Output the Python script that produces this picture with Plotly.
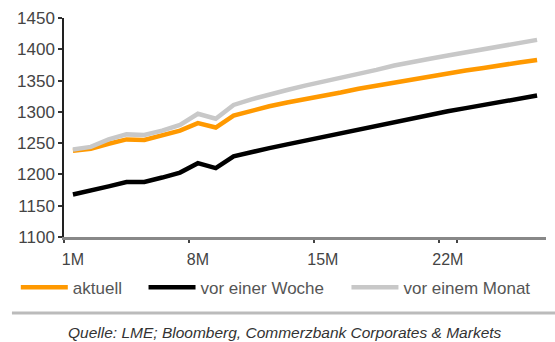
import plotly.graph_objects as go

# Forward curve, months ahead
months = [f"{i}M" for i in range(1, 28)]
tick_labels = ["1M", "8M", "15M", "22M"]

aktuell = [1238, 1241, 1249, 1256, 1255, 1262, 1270, 1282, 1275, 1294,
           1302, 1309, 1315, 1320, 1326, 1331, 1337, 1342, 1347, 1352,
           1357, 1361, 1366, 1370, 1375, 1379, 1383]
vor_einer_woche = [1168, 1174, 1181, 1188, 1188, 1195, 1203, 1218, 1210, 1229,
                   1236, 1242, 1248, 1254, 1260, 1266, 1272, 1278, 1284, 1290,
                   1296, 1301, 1306, 1311, 1316, 1321, 1326]
vor_einem_monat = [1240, 1244, 1256, 1264, 1263, 1270, 1279, 1297, 1289, 1311,
                   1320, 1328, 1335, 1342, 1348, 1355, 1361, 1367, 1374, 1380,
                   1385, 1390, 1395, 1400, 1405, 1410, 1415]

series = [
    ("aktuell", aktuell, "#FF9900", "legend"),
    ("vor einer Woche", vor_einer_woche, "#000000", "legend2"),
    ("vor einem Monat", vor_einem_monat, "#C8C8C8", "legend3"),
]

FONT = "Liberation Sans, Arial, sans-serif"

fig = go.Figure()
for name, vals, color, leg in series:
    fig.add_trace(go.Scatter(
        x=months, y=vals, name=name, mode="lines",
        line=dict(color=color, width=4.5),
        legend=leg,
    ))

legend_common = dict(
    orientation="h", yanchor="middle", xanchor="left", y=-0.232,
    font=dict(family=FONT, size=17, color="#555555"),
    itemwidth=47, bgcolor="rgba(0,0,0,0)", tracegroupgap=0,
)

fig.update_layout(
    width=555, height=342,
    margin=dict(l=64, r=9, t=18, b=105),
    plot_bgcolor="white", paper_bgcolor="white",
    showlegend=True,
    legend=dict(x=-0.10, **legend_common),
    legend2=dict(x=0.165, **legend_common),
    legend3=dict(x=0.586, **legend_common),
    xaxis=dict(
        type="category", categoryorder="array", categoryarray=months,
        range=[-0.5, len(months) - 0.5],
        tickmode="array", tickvals=tick_labels, ticktext=tick_labels,
        tickson="boundaries", tickangle=0, ticklabelstandoff=6,
        ticks="outside", ticklen=3, tickwidth=1.5, tickcolor="#444444",
        showline=True, linecolor="#888888", linewidth=2.5,
        showgrid=False, zeroline=False,
        tickfont=dict(family=FONT, size=16, color="#444444"),
    ),
    yaxis=dict(
        range=[1100, 1450], tickmode="linear", tick0=1100, dtick=50,
        ticks="outside", ticklen=4, tickwidth=1.5, tickcolor="#333333",
        showline=True, linecolor="#222222", linewidth=1.5,
        showgrid=False, zeroline=False,
        tickfont=dict(family=FONT, size=17, color="#444444"),
    ),
    shapes=[dict(
        type="line", xref="paper", yref="paper",
        x0=-0.108, x1=1.02, y0=-0.347, y1=-0.347,
        line=dict(color="#BBBBBB", width=3),
    )],
    annotations=[dict(
        text="Quelle: LME; Bloomberg, Commerzbank Corporates & Markets",
        xref="paper", yref="paper", x=0.458, y=-0.436,
        xanchor="center", yanchor="middle", showarrow=False,
        font=dict(family=FONT, size=15.5, color="#333333", style="italic"),
    )],
)

fig.write_html("out.html")
